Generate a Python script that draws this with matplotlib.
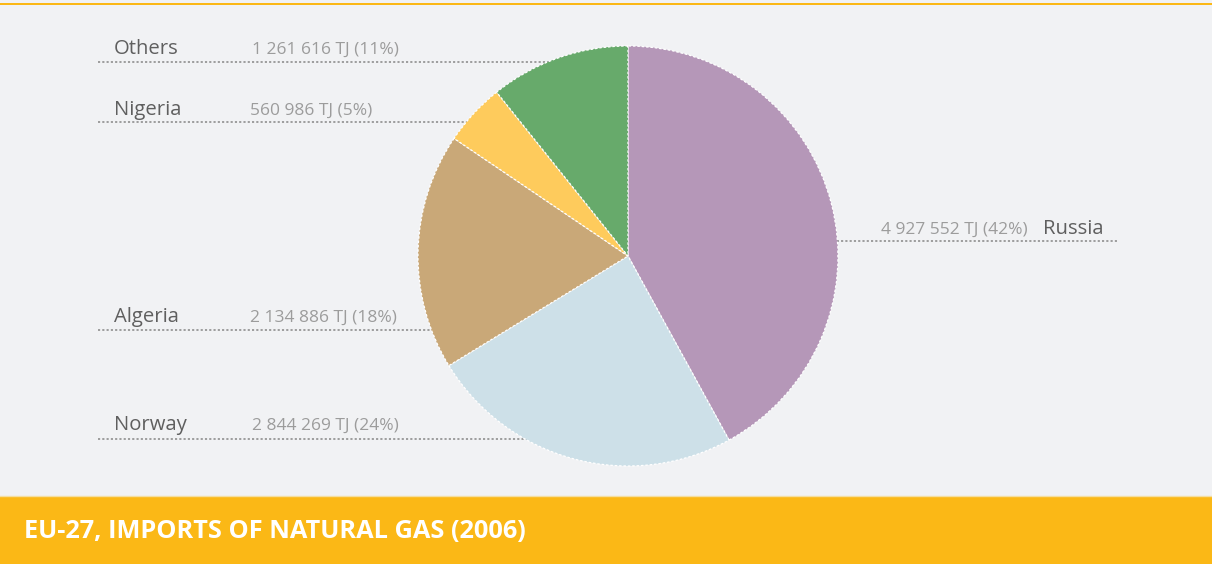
import matplotlib
matplotlib.use("Agg")
import matplotlib.pyplot as plt

# EU-27 natural gas imports by origin, 2006 (terajoules)
countries = ["Russia", "Norway", "Algeria", "Nigeria", "Others"]
imports_tj = [4927552, 2844269, 2134886, 560986, 1261616]
value_labels = ["4 927 552 TJ (42%)", "2 844 269 TJ (24%)", "2 134 886 TJ (18%)",
                "560 986 TJ (5%)", "1 261 616 TJ (11%)"]
colors = ["#b597b8", "#cde0e8", "#c9a878", "#fecb5c", "#67aa6b"]
title = "EU-27, IMPORTS OF NATURAL GAS (2006)"

W, H = 1212, 564
BG = "#f1f2f4"
YELLOW = "#fbb816"
LABEL_GREY = "#5f5f5f"
VALUE_GREY = "#9c9c9c"

plt.rcParams["font.family"] = ["Open Sans", "DejaVu Sans"]

fig = plt.figure(figsize=(W / 100, H / 100), dpi=100, facecolor=BG)
ax = fig.add_axes([0, 0, 1, 1])
ax.set_facecolor(BG)


def py(y):
    """Convert a top-down pixel row into axis y."""
    return H - y


# pie, clockwise from 12 o'clock
ax.pie(imports_tj, colors=colors, startangle=90, counterclock=False,
       center=(628, py(256)), radius=210, frame=True,
       wedgeprops=dict(edgecolor="white", linestyle=(0, (2, 1.5)),
                       linewidth=0.9, zorder=3))
ax.set_xlim(0, W)
ax.set_ylim(0, H)
ax.set_aspect("equal")
ax.axis("off")

# leader rows: (name, line y, line x0, line x1, text baseline, name x, value x)
rows = {
    "Others":  (62, 98, 620, 54, 114, 252),
    "Nigeria": (122, 98, 620, 115, 114, 250),
    "Algeria": (330, 98, 620, 322, 114, 250),
    "Norway":  (439, 98, 620, 430, 114, 252),
}
for name, (ly, x0, x1, base, nx, vx) in rows.items():
    i = countries.index(name)
    ax.plot([x0, x1], [py(ly), py(ly)], color="#868686", lw=1.1,
            linestyle=(0, (1.4, 1.4)), zorder=1)
    ax.text(nx, py(base), name, color=LABEL_GREY, fontsize=14.6,
            ha="left", va="baseline")
    ax.text(vx, py(base), value_labels[i], color=VALUE_GREY, fontsize=12.5,
            ha="left", va="baseline")

# Russia sits on the right-hand side
ax.plot([640, 1117], [py(241), py(241)], color="#868686", lw=1.1,
        linestyle=(0, (1.4, 1.4)), zorder=1)
ax.text(1028, py(234), value_labels[0], color=VALUE_GREY, fontsize=12.5,
        ha="right", va="baseline")
ax.text(1043, py(234), "Russia", color=LABEL_GREY, fontsize=14.6,
        ha="left", va="baseline")

# thin rule at the top and title banner at the bottom
ax.add_patch(plt.Rectangle((0, py(4.5)), W, 1.6, color=YELLOW, lw=0, zorder=4))
ax.add_patch(plt.Rectangle((0, 0), W, py(496), color=YELLOW, lw=0, zorder=4))
ax.plot([0, W], [py(496), py(496)], color="#f5dea0", lw=1, zorder=4)
ax.text(24, py(531), title, color="white", fontsize=18.3, fontweight="bold",
        ha="left", va="center", zorder=5)

fig.savefig("out.png", dpi=100, facecolor=BG)
